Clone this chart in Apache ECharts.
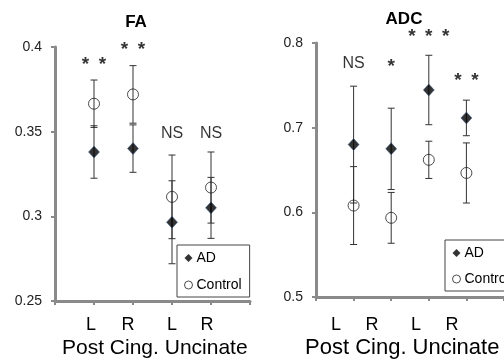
<!DOCTYPE html>
<html>
<head>
<meta charset="utf-8">
<script src="https://cdn.jsdelivr.net/npm/echarts@6/dist/echarts.min.js"></script>
<style>
  html, body { margin: 0; padding: 0; background: #fff; }
  #chart { width: 504px; height: 359px; }
</style>
</head>
<body>
<div id="chart"></div>
<script>
// positions on the x axis (1..4) and their labels
var positions = [1, 2, 3, 4];
var sideLabels = ['L', 'R', 'L', 'R'];
var groupLabel = 'Post Cing. Uncinate';

// FA panel
var faAD = [0.338, 0.340, 0.2965, 0.305];
var faADErr = [0.0155, 0.014, 0.0245, 0.018];
var faCtrl = [0.3665, 0.372, 0.3115, 0.317];
var faCtrlErr = [0.014, 0.017, 0.0247, 0.021];
var faSig = ['* *', '* *', 'NS', 'NS'];
var faSigY = [0.391, 0.400, 0.349, 0.349];

// ADC panel
var adcAD = [0.680, 0.675, 0.7445, 0.7115];
var adcADErr = [0.069, 0.048, 0.041, 0.021];
var adcCtrl = [0.608, 0.5935, 0.662, 0.6465];
var adcCtrlErr = [0.046, 0.030, 0.022, 0.0355];
var adcSig = ['NS', '*', '* * *', '* *'];
var adcSigY = [0.776, 0.776, 0.8106, 0.7587];

var FONT = 'Liberation Sans, Arial, sans-serif';
var AXIS_GRAY = '#8a8a8a';

function errRender(params, api) {
  var x = api.value(0);
  var top = api.coord([x, api.value(2)]);
  var bot = api.coord([x, api.value(1)]);
  var w = 3.5;
  var st = { stroke: '#333', lineWidth: 1 };
  return {
    type: 'group',
    children: [
      { type: 'line', shape: { x1: top[0], y1: top[1], x2: bot[0], y2: bot[1] }, style: st },
      { type: 'line', shape: { x1: top[0] - w, y1: top[1], x2: top[0] + w, y2: top[1] }, style: st },
      { type: 'line', shape: { x1: bot[0] - w, y1: bot[1], x2: bot[0] + w, y2: bot[1] }, style: st }
    ]
  };
}

function errData(vals, errs) {
  return positions.map(function (p, i) { return [p, vals[i] - errs[i], vals[i] + errs[i]]; });
}
function pts(vals) {
  return positions.map(function (p, i) { return [p, vals[i]]; });
}
function sigData(labels, ys) {
  return positions.map(function (p, i) {
    return { value: [p, ys[i]], name: labels[i] };
  });
}

function xAxisFor(gi) {
  return {
    gridIndex: gi, type: 'value', min: 0, max: 5, interval: 1,
    axisLine: { show: true, lineStyle: { color: AXIS_GRAY, width: 3 } },
    axisTick: { show: true, length: 4, lineStyle: { color: AXIS_GRAY, width: 2 } },
    axisLabel: { show: false },
    splitLine: { show: false }
  };
}
function yAxisFor(gi, min, max, step) {
  return {
    gridIndex: gi, type: 'value', min: min, max: max, interval: step,
    axisLine: { show: true, lineStyle: { color: AXIS_GRAY, width: 3 } },
    axisTick: { show: true, length: 4, lineStyle: { color: AXIS_GRAY, width: 2 } },
    axisLabel: { color: '#222', fontSize: 14, fontFamily: FONT, margin: 13 },
    splitLine: { show: false }
  };
}

function panelSeries(gi, ad, adErr, ctrl, ctrlErr, sig, sigY) {
  return [
    { type: 'custom', name: 'errCtrl' + gi, xAxisIndex: gi, yAxisIndex: gi, renderItem: errRender,
      data: errData(ctrl, ctrlErr), z: 2, encode: { x: 0, y: [1, 2] } },
    { type: 'custom', name: 'errAD' + gi, xAxisIndex: gi, yAxisIndex: gi, renderItem: errRender,
      data: errData(ad, adErr), z: 2, encode: { x: 0, y: [1, 2] } },
    { type: 'scatter', name: 'Control', xAxisIndex: gi, yAxisIndex: gi, symbol: 'circle', symbolSize: 11,
      itemStyle: { color: 'rgba(255,255,255,0)', borderColor: '#222', borderWidth: 1 }, data: pts(ctrl), z: 3 },
    { type: 'scatter', name: 'AD', xAxisIndex: gi, yAxisIndex: gi, symbol: 'diamond', symbolSize: [11, 12],
      itemStyle: { color: '#000', borderColor: '#3a5d8f', borderWidth: 0.6 }, data: pts(ad), z: 4 },
    { type: 'scatter', name: 'sig' + gi, xAxisIndex: gi, yAxisIndex: gi, symbolSize: 0, clip: false,
      data: sigData(sig, sigY), z: 5,
      label: { show: true, position: 'inside', color: '#000', fontFamily: FONT, fontSize: 16,
        formatter: function (p) {
          return p.name.indexOf('*') >= 0 ? '{s|' + p.name.split(' ').join('\u2002') + '}' : p.name;
        },
        rich: { s: { fontSize: 19, fontWeight: 'bold', fontFamily: FONT, color: '#000', padding: [6, 0, 0, 0] } }
      }
    }
  ];
}

var series = [].concat(
  panelSeries(0, faAD, faADErr, faCtrl, faCtrlErr, faSig, faSigY),
  panelSeries(1, adcAD, adcADErr, adcCtrl, adcCtrlErr, adcSig, adcSigY)
);

function legendFor(left, top, gap) {
  return {
    orient: 'vertical', left: left, top: top,
    padding: [6, 8, 5, 7], itemGap: gap, itemWidth: 8, itemHeight: 8,
    borderColor: '#444', borderWidth: 1, backgroundColor: '#fff',
    textStyle: { fontSize: 14, fontFamily: FONT, color: '#000', padding: [0, 0, 0, -1] },
    data: [
      { name: 'AD', icon: 'diamond', itemStyle: { color: '#000', borderWidth: 0 } },
      { name: 'Control', icon: 'circle', itemStyle: { color: '#fff', borderColor: '#222', borderWidth: 1 } }
    ],
    selectedMode: false
  };
}

var leftSideX = [91, 128, 172, 207];
var rightSideX = [336, 372, 416, 452];
var graphics = [];
sideLabels.forEach(function (s, i) {
  graphics.push({ type: 'text', x: leftSideX[i], y: 325, style: { text: s, fontSize: 18, fontFamily: FONT, fill: '#000', align: 'center', verticalAlign: 'middle' } });
  graphics.push({ type: 'text', x: rightSideX[i], y: 325, style: { text: s, fontSize: 18, fontFamily: FONT, fill: '#000', align: 'center', verticalAlign: 'middle' } });
});
graphics.push({ type: 'text', x: 62, y: 348, style: { text: groupLabel, fontSize: 21, fontFamily: FONT, fill: '#000', align: 'left', verticalAlign: 'middle' } });
graphics.push({ type: 'text', x: 305, y: 348, style: { text: groupLabel, fontSize: 22, fontFamily: FONT, fill: '#000', align: 'left', verticalAlign: 'middle' } });

var chart = echarts.init(document.getElementById('chart'));
chart.setOption({
  animation: false,
  title: [
    { text: 'FA', left: 131, top: 9, textAlign: 'center',
      textStyle: { fontSize: 17, fontWeight: 'bold', fontFamily: FONT, color: '#000' } },
    { text: 'ADC', left: 399, top: 6, textAlign: 'center',
      textStyle: { fontSize: 17, fontWeight: 'bold', fontFamily: FONT, color: '#000' } }
  ],
  grid: [
    { left: 55, top: 47, width: 195, height: 254 },
    { left: 316, top: 43, width: 195, height: 254 }
  ],
  xAxis: [xAxisFor(0), xAxisFor(1)],
  yAxis: [yAxisFor(0, 0.25, 0.4, 0.05), yAxisFor(1, 0.5, 0.8, 0.1)],
  legend: [legendFor(177, 245, 13), legendFor(445, 240, 12)],
  graphic: graphics,
  series: series
});
</script>
</body>
</html>
